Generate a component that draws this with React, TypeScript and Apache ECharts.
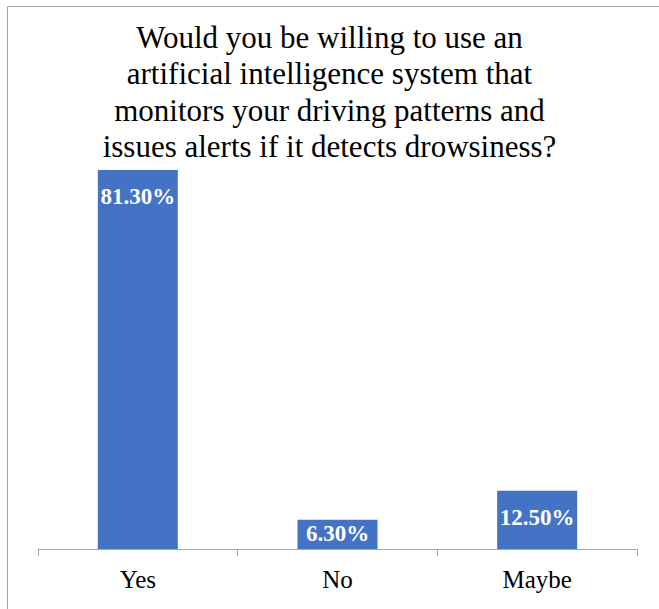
import React, { useEffect, useRef } from "react";
import * as echarts from "echarts";

const titleLines = [
  "Would you be willing to use an",
  "artificial intelligence system that",
  "monitors your driving patterns and",
  "issues alerts if it detects drowsiness?",
];
const categories = ["Yes", "No", "Maybe"];
const values = [81.3, 6.3, 12.5];
const labelDistances = [15, 2, 15];

const FONT = "Liberation Serif";

export default function App() {
  const ref = useRef<HTMLDivElement>(null);
  useEffect(() => {
    document.body.style.margin = "0";
    const chart = echarts.init(ref.current!, null, { renderer: "svg" });
    chart.setOption({
      animation: false,
      backgroundColor: "#ffffff",
      title: {
        text: titleLines.join("\n"),
        left: "center",
        top: 14,
        textStyle: {
          fontFamily: FONT,
          fontSize: 31,
          fontWeight: "normal",
          color: "#000000",
          lineHeight: 36.5,
        },
      },
      graphic: [
        {
          type: "rect",
          shape: { x: 7.5, y: 6.5, width: 700, height: 700 },
          style: { fill: "none", stroke: "#a6a6a6", lineWidth: 1 },
          silent: true,
          z: -1,
        },
      ],
      grid: { left: 38, right: 22, top: 129.5, bottom: 60, containLabel: false },
      xAxis: {
        type: "category",
        data: categories,
        axisLine: { show: true, lineStyle: { color: "#a6a6a6", width: 1 } },
        axisTick: { show: true, length: 7, lineStyle: { color: "#a6a6a6" } },
        axisLabel: { fontFamily: FONT, fontSize: 25, color: "#000000", margin: 18 },
      },
      yAxis: {
        type: "value",
        min: 0,
        max: 90,
        show: false,
        splitLine: { show: false },
      },
      series: [
        {
          type: "bar",
          barWidth: 80,
          data: values.map((v, i) => ({
            value: v,
            label: { distance: labelDistances[i] },
          })),
          itemStyle: { color: "#4472C4" },
          label: {
            show: true,
            position: "insideTop",
            fontFamily: FONT,
            fontSize: 23,
            fontWeight: "bold",
            color: "#ffffff",
            formatter: (p: any) => p.value.toFixed(2) + "%",
          },
        },
      ],
    });
    return () => chart.dispose();
  }, []);
  return <div ref={ref} style={{ width: 659, height: 609 }} />;
}
